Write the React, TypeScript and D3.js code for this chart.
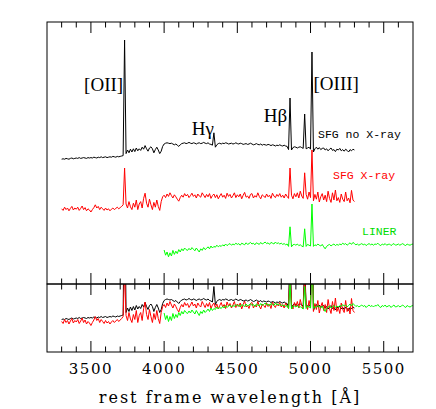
import React from 'react';
import * as d3 from 'd3';

const W = 436;
const H = 409;

// wavelength axis
const lambdaDomain = [3200, 5700];
const majorTicks = [3500, 4000, 4500, 5000, 5500];
const tickLabels = ['3500', '4000', '4500', '5000', '5500'];
const minorTicks = [3300, 3400, 3600, 3700, 3800, 3900, 4100, 4200, 4300, 4400, 4600, 4700, 4800, 4900, 5100, 5200, 5300, 5400, 5600];

const STEP = 10;

// SFG without X-ray (normalised flux, 10 Å bins from 3300 Å)
const sfgNoXStart = 3300;
const sfgNoX = [
  0.72, 0.73, 0.72, 0.74, 0.73, 0.72, 0.74, 0.75, 0.73, 0.74,
  0.75, 0.74, 0.76, 0.74, 0.75, 0.76, 0.75, 0.74, 0.76, 0.75,
  0.76, 0.75, 0.77, 0.76, 0.75, 0.77, 0.76, 0.78, 0.76, 0.77,
  0.78, 0.76, 0.77, 0.78, 0.77, 0.79, 0.78, 0.77, 0.79, 0.78,
  0.79, 0.80, 0.81, 3.70, 0.86, 0.95, 0.88, 0.97, 0.90, 0.98,
  0.91, 1.00, 0.93, 0.98, 0.94, 1.02, 0.97, 1.06, 0.98, 0.92,
  1.00, 1.03, 0.98, 0.88, 0.96, 1.02, 0.95, 0.86, 0.92, 1.04,
  1.10, 1.12, 1.13, 1.12, 1.11, 1.12, 1.10, 1.08, 1.10, 1.07,
  1.04, 1.08, 1.11, 1.12, 1.13, 1.11, 1.12, 1.14, 1.12, 1.11,
  1.13, 1.12, 1.10, 1.12, 1.13, 1.11, 1.12, 1.14, 1.12, 1.11,
  1.13, 1.10, 1.09, 1.07, 1.38, 1.02, 1.08, 1.11, 1.12, 1.10,
  1.12, 1.11, 1.13, 1.12, 1.10, 1.11, 1.12, 1.10, 1.11, 1.13,
  1.11, 1.10, 1.12, 1.11, 1.09, 1.10, 1.11, 1.09, 1.10, 1.12,
  1.10, 1.08, 1.09, 1.11, 1.09, 1.08, 1.10, 1.07, 1.09, 1.08,
  1.07, 1.09, 1.08, 1.06, 1.08, 1.07, 1.05, 1.07, 1.06, 1.08,
  1.06, 1.05, 1.07, 1.05, 1.04, 0.96, 2.25, 0.95, 1.01, 1.03,
  1.02, 1.00, 1.02, 1.03, 1.01, 0.99, 1.85, 0.98, 1.00, 1.02,
  0.97, 3.40, 0.90, 0.98, 1.02, 0.97, 1.01, 0.96, 0.99, 1.00,
  0.95, 0.98, 0.93, 0.97, 1.00, 0.94, 0.96, 0.91, 0.97, 0.95,
  0.99, 0.93, 0.96, 0.92, 0.97, 0.94, 0.90, 0.96, 0.93, 0.97,
  0.95,
];

// SFG with X-ray
const sfgXStart = 3300;
const sfgX = [
  0.68, 0.64, 0.72, 0.66, 0.70, 0.63, 0.69, 0.74, 0.65, 0.70,
  0.67, 0.72, 0.64, 0.69, 0.75, 0.66, 0.71, 0.63, 0.68, 0.65,
  0.60, 0.66, 0.71, 0.78, 0.70, 0.74, 0.66, 0.72, 0.68, 0.64,
  0.70, 0.65, 0.68, 0.63, 0.67, 0.70, 0.66, 0.69, 0.72, 0.68,
  0.71, 0.74, 0.78, 1.70, 0.80, 0.70, 0.86, 0.73, 0.66, 0.82,
  0.72, 0.90, 0.66, 0.80, 0.86, 0.70, 0.94, 1.07, 0.82, 0.72,
  0.92, 0.78, 0.66, 0.84, 0.72, 0.90, 0.74, 0.64, 0.86, 0.98,
  1.02, 0.96, 1.05, 0.99, 1.08, 1.01, 0.95, 1.03, 0.98, 0.92,
  0.87, 0.96, 1.02, 0.97, 1.06, 1.00, 1.04, 0.96, 1.01, 1.07,
  0.99, 1.03, 0.95, 1.05, 1.00, 0.97, 1.08, 1.02, 0.96, 1.04,
  0.98, 1.06, 0.94, 1.01, 1.05, 0.96, 1.03, 0.93, 1.00, 1.06,
  0.97, 1.02, 0.94, 1.07, 0.99, 1.04, 0.95, 1.01, 1.08, 0.96,
  1.03, 0.98, 1.05, 0.93, 1.02, 1.09, 0.97, 1.00, 0.94, 1.04,
  1.06, 0.95, 1.01, 0.97, 1.08, 0.99, 0.93, 1.03, 1.00, 0.96,
  1.05, 0.98, 1.02, 0.94, 1.07, 1.00, 0.96, 1.04, 0.99, 1.06,
  0.97, 1.02, 0.95, 1.05, 0.99, 0.94, 1.70, 1.02, 0.93, 1.06,
  0.98, 1.08, 0.95, 1.12, 1.00, 0.94, 1.58, 1.04, 0.92, 1.10,
  0.96, 2.15, 0.88, 1.04, 0.92, 1.10, 0.85, 0.98, 1.06, 0.90,
  1.02, 0.86, 1.12, 0.94, 0.84, 1.08, 0.90, 1.15, 0.88, 0.96,
  0.84, 1.05, 0.92, 0.86, 1.10, 0.88, 0.95, 0.83, 1.14, 0.90,
  0.86,
];

// LINER
const linerStart = 4000;
const liner = [
  0.85, 0.72, 0.80, 0.68, 0.78, 0.70, 0.84, 0.74, 0.82, 0.76,
  0.86, 0.80, 0.88, 0.83, 0.90, 0.86, 0.84, 0.89, 0.85, 0.91,
  0.87, 0.83, 0.90, 0.85, 0.80, 0.88, 0.84, 0.91, 0.86, 0.89,
  0.93, 0.88, 0.95, 0.90, 0.94, 0.92, 0.97, 0.93, 0.96, 0.94,
  0.98, 0.95, 1.00, 0.96, 0.99, 1.01, 0.97, 1.00, 0.98, 1.02,
  0.99, 1.01, 0.97, 1.02, 1.00, 0.98, 1.03, 0.99, 1.01, 1.04,
  1.00, 1.02, 0.98, 1.03, 1.01, 0.99, 1.04, 1.00, 1.02, 1.05,
  1.01, 1.03, 0.99, 1.04, 1.02, 1.00, 1.05, 1.01, 1.03, 1.00,
  1.02, 0.99, 1.01, 0.98, 1.00, 0.94, 1.43, 0.93, 0.98, 0.99,
  0.97, 1.00, 0.96, 0.98, 0.95, 0.93, 1.38, 0.94, 0.99, 0.97,
  0.95, 2.00, 0.94, 0.98, 0.96, 1.00, 0.97, 0.95, 0.99, 0.93,
  0.88, 0.94, 0.97, 0.99, 0.95, 0.98, 1.00, 0.96, 0.99, 0.97,
  1.00, 0.98, 1.02, 0.99, 1.01, 0.97, 1.00, 1.03, 0.99, 1.04,
  1.01, 0.98, 1.00, 0.97, 0.99, 1.01, 0.98, 1.00, 0.96, 0.99,
  1.01, 0.98, 1.00, 0.97, 1.00, 0.99, 1.02, 0.98, 0.96, 1.00,
  0.98, 1.01, 0.97, 0.99, 1.00, 0.96, 0.99, 1.01, 0.97, 0.98,
  1.00, 0.97, 0.99, 1.01, 0.98, 0.96, 1.00, 0.98, 0.97, 0.99,
  1.00,
];

const seriesNames = ['SFG no X-ray', 'SFG X-ray', 'LINER'];
const seriesColors = ['#000000', '#ff0000', '#00ff00'];
const labelColors = ['#000000', '#ff0000', '#00dd00'];
const topOffsets = [2.4, 1.2, 0.0];

const lineLabels = [
  { text: '[OII]', lambda: 3727, anchor: 'end', dx: -1, y: 91 },
  { text: 'Hγ', lambda: 4340, anchor: 'end', dx: 0, y: 135 },
  { text: 'Hβ', lambda: 4861, anchor: 'end', dx: -3, y: 122 },
  { text: '[OIII]', lambda: 5007, anchor: 'start', dx: 2, y: 90 },
];

const L = 47;
const R = 413;
const T1 = 22;
const B1 = 284;
const T2 = 284;
const B2 = 352;

export default function App() {
  const x = d3.scaleLinear().domain(lambdaDomain).range([L, R]);
  const yTop = d3.scaleLinear().domain([0, (B1 - T1) / 40]).range([B1, T1]);
  const yBot = d3.scaleLinear().domain([0.07, 0.07 + (B2 - T2) / 50]).range([B2, T2]);

  const spectra = [
    { start: sfgNoXStart, values: sfgNoX },
    { start: sfgXStart, values: sfgX },
    { start: linerStart, values: liner },
  ];

  const pathFor = (s: { start: number; values: number[] }, y: (v: number) => number, off: number) =>
    d3
      .line<number>()
      .x((_, i) => x(s.start + i * STEP))
      .y((v) => y(v + off))(s.values) || '';

  const ticks = (yEdge: number, dir: number) => (
    <g stroke="#000" strokeWidth={1}>
      {majorTicks.map((t) => (
        <line key={'M' + t} x1={x(t)} x2={x(t)} y1={yEdge} y2={yEdge + dir * 11} />
      ))}
      {minorTicks.map((t) => (
        <line key={'m' + t} x1={x(t)} x2={x(t)} y1={yEdge} y2={yEdge + dir * 5.5} />
      ))}
    </g>
  );

  return (
    <svg width={W} height={H} style={{ position: 'absolute', left: 0, top: 0, background: '#fff' }}>
      <defs>
        <clipPath id="clipTop">
          <rect x={L} y={T1} width={R - L} height={B1 - T1} />
        </clipPath>
        <clipPath id="clipBot">
          <rect x={L} y={T2} width={R - L} height={B2 - T2} />
        </clipPath>
      </defs>
      <rect x={0} y={0} width={W} height={H} fill="#fff" />

      <g clipPath="url(#clipTop)" fill="none" strokeWidth={1} strokeLinejoin="round">
        {spectra.map((s, k) => (
          <path key={k} d={pathFor(s, yTop, topOffsets[k])} stroke={seriesColors[k]} />
        ))}
      </g>
      <g clipPath="url(#clipBot)" fill="none" strokeWidth={1} strokeLinejoin="round">
        {spectra.map((s, k) => (
          <path key={k} d={pathFor(s, yBot, 0)} stroke={seriesColors[k]} />
        ))}
      </g>

      {ticks(T1, 1)}
      {ticks(B1, -1)}
      {ticks(T2, 1)}
      {ticks(B2, -1)}

      <rect x={L} y={T1} width={R - L} height={B1 - T1} fill="none" stroke="#000" strokeWidth={1} />
      <rect x={L} y={T2} width={R - L} height={B2 - T2} fill="none" stroke="#000" strokeWidth={1} />

      {lineLabels.map((lb) => (
        <text
          key={lb.text}
          x={x(lb.lambda) + lb.dx}
          y={lb.y}
          textAnchor={lb.anchor as any}
          fontFamily="Liberation Serif, serif"
          fontSize={19}
          fill="#000"
        >
          {lb.text}
        </text>
      ))}

      <text x={318} y={138} fontFamily="Liberation Mono, monospace" fontSize={11.5} fill={labelColors[0]}>
        {seriesNames[0]}
      </text>
      <text x={333} y={179} fontFamily="Liberation Mono, monospace" fontSize={11.5} fill={labelColors[1]}>
        {seriesNames[1]}
      </text>
      <text x={362} y={235} fontFamily="Liberation Mono, monospace" fontSize={11.5} fill={labelColors[2]}>
        {seriesNames[2]}
      </text>

      {majorTicks.map((t, i) => (
        <text
          key={'tl' + t}
          x={x(t)}
          y={374}
          textAnchor="middle"
          fontFamily="DejaVu Serif, serif"
          fontSize={15}
          letterSpacing={1.5}
          fill="#000"
        >
          {tickLabels[i]}
        </text>
      ))}
      <text
        x={(98 + 362) / 2}
        y={403}
        textAnchor="middle"
        fontFamily="DejaVu Serif, serif"
        fontSize={16}
        letterSpacing={2}
        fill="#000"
      >
        rest frame wavelength [Å]
      </text>
    </svg>
  );
}
